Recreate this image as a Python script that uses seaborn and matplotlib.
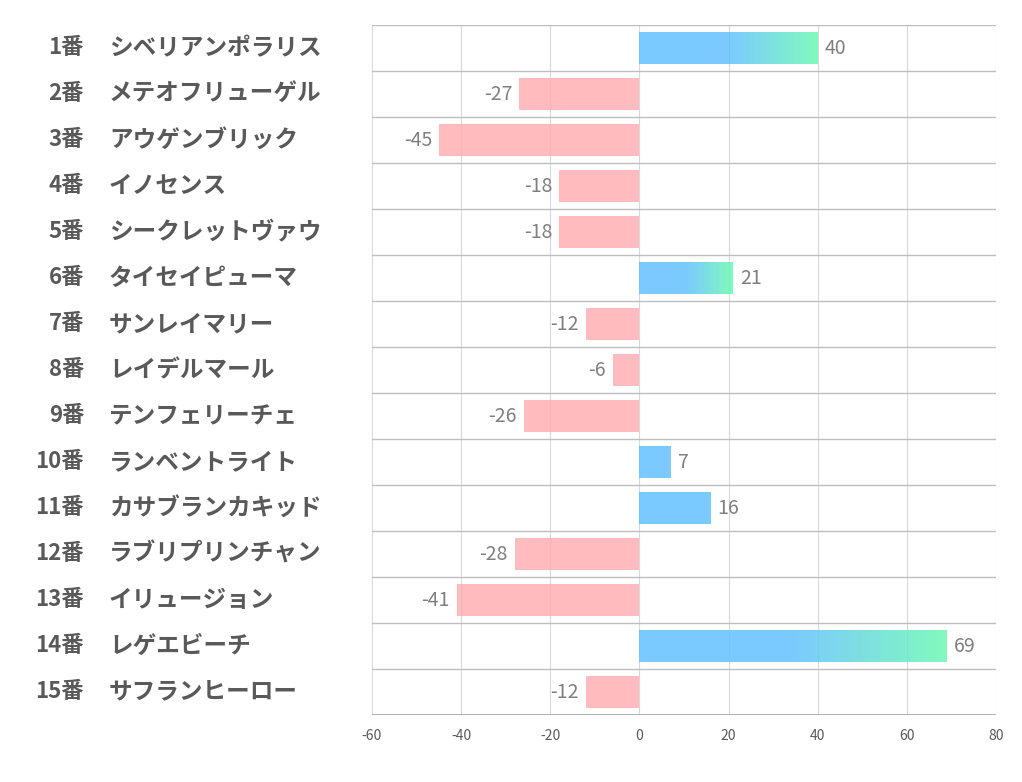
import numpy as np
import pandas as pd
import matplotlib
matplotlib.use('Agg')
import matplotlib.pyplot as plt
import matplotlib.transforms as mtransforms
from matplotlib.colors import LinearSegmentedColormap
import seaborn as sns

# Données
numeros = [f'{i}番' for i in range(1, 16)]
chevaux = ['シベリアンポラリス', 'メテオフリューゲル', 'アウゲンブリック', 'イノセンス',
           'シークレットヴァウ', 'タイセイピューマ', 'サンレイマリー', 'レイデルマール',
           'テンフェリーチェ', 'ランベントライト', 'カサブランカキッド', 'ラブリプリンチャン',
           'イリュージョン', 'レゲエビーチ', 'サフランヒーロー']
valeurs = [40, -27, -45, -18, -18, 21, -12, -6, -26, 7, 16, -28, -41, 69, -12]
x_ticks = [-60, -40, -20, 0, 20, 40, 60, 80]

sns.set_theme(style='white')
plt.rcParams['font.family'] = ['Noto Sans CJK JP', 'DejaVu Sans']

ROSE = '#ffb0b3'
BLEU = '#63c1ff'
VERT = '#6af9b2'
ALPHA = 0.85

df = pd.DataFrame({'cheval': chevaux, 'valeur': valeurs})
df['signe'] = np.where(df['valeur'] >= 0, 'plus', 'moins')

fig = plt.figure(figsize=(10.22, 7.82), dpi=100)
ax = fig.add_axes([372 / 1022, 1 - 715 / 782, 624 / 1022, 690 / 782])

sns.barplot(data=df, y='cheval', x='valeur', hue='signe', dodge=False,
            palette={'plus': BLEU, 'moins': ROSE}, orient='h', width=0.68,
            saturation=1, alpha=ALPHA, legend=False, ax=ax, linewidth=0)

# Étiquettes de valeur
for cont in ax.containers:
    ax.bar_label(cont, fmt='%d', padding=5, fontsize=14, color='#7f7f7f')

# Dégradé bleu -> vert pour les grandes valeurs positives
cmap = LinearSegmentedColormap.from_list('bv', [(0, BLEU), (0.5, BLEU), (1, VERT)])
grad = np.linspace(0, 1, 256).reshape(1, -1)
for p in ax.patches:
    if p.get_width() >= 20:
        x0, y0, w, h = p.get_x(), p.get_y(), p.get_width(), p.get_height()
        p.set_visible(False)
        ax.imshow(grad, cmap=cmap, aspect='auto', alpha=ALPHA,
                  extent=(x0, x0 + w, y0 + h, y0), zorder=2)

n = len(chevaux)
ax.set_xlim(-60, 80)
ax.set_ylim(n - 0.5, -0.5)
ax.set_xticks(x_ticks)
ax.set_xticklabels([str(t) for t in x_ticks], fontsize=10, color='#595959')
ax.tick_params(axis='x', length=0, pad=10)
ax.set_yticks([])
ax.set_xlabel('')
ax.set_ylabel('')
for s in ax.spines.values():
    s.set_visible(False)

ax.set_axisbelow(True)
for t in x_ticks:
    ax.axvline(t, color='#d9d9d9', linewidth=0.8, zorder=0)
for yb in np.arange(-0.5, n - 0.5):
    ax.axhline(yb, color='#bfbfbf', linewidth=1.0, zorder=0)
ax.axhline(n - 0.5, color='#a6a6a6', linewidth=1.2, zorder=3)

# Libellés des chevaux (deux colonnes)
trans = mtransforms.blended_transform_factory(fig.transFigure, ax.transData)
for i, (num, nom) in enumerate(zip(numeros, chevaux)):
    ax.text(84 / 1022, i, num, transform=trans, ha='right', va='center',
            fontsize=16, fontweight='bold', color='#595959')
    ax.text(109 / 1022, i, nom, transform=trans, ha='left', va='center',
            fontsize=17, fontweight='bold', color='#595959')

plt.savefig('out.png', dpi=100)
plt.close()
